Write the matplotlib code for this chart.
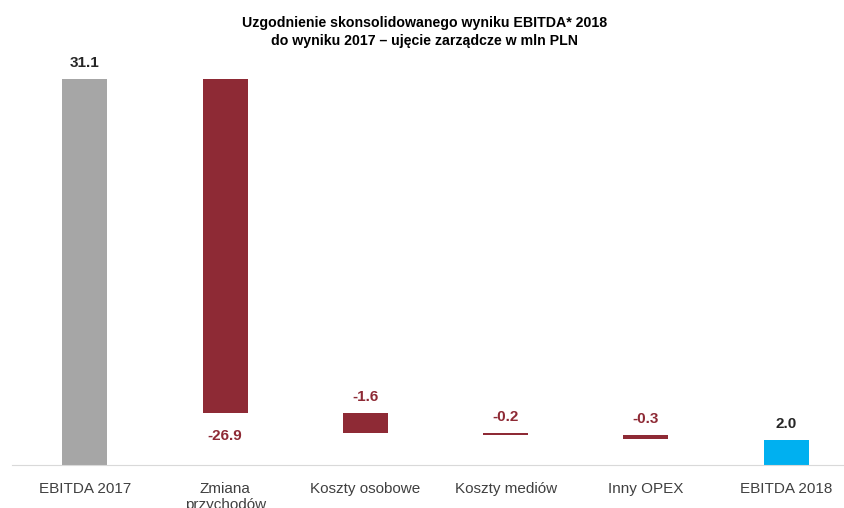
import matplotlib.pyplot as plt
import matplotlib as mpl

# dane z wykresu (mln PLN)
categories = ['EBITDA 2017', 'Zmiana\nprzychodów', 'Koszty osobowe',
              'Koszty mediów', 'Inny OPEX', 'EBITDA 2018']
values = [31.1, -26.9, -1.6, -0.2, -0.3, 2.0]
labels = ['31.1', '-26.9', '-1.6', '-0.2', '-0.3', '2.0']

mpl.rcParams['font.family'] = ['Liberation Sans', 'DejaVu Sans']

gray = '#a6a6a6'
red = '#8e2a35'
blue = '#00b0f0'

dpi = 100
fig = plt.figure(dpi=dpi, figsize=(845 / dpi, 508 / dpi))
ax = fig.add_axes([12 / 845, 1 - 465 / 508, 833 / 845, 410 / 508])

# waterfall - start kazdego slupka
bottoms = []
running = 0.0
for i, v in enumerate(values):
    if i == 0 or i == len(values) - 1:
        bottoms.append(0.0)
        running = v if i == 0 else running
    else:
        bottoms.append(running)
        running += v

colors = [gray] + [red] * (len(values) - 2) + [blue]
xs = range(len(values))
ax.bar(xs, values, bottom=bottoms, width=0.32, color=colors, zorder=2)

for i, v in enumerate(values):
    top = max(bottoms[i], bottoms[i] + v)
    low = min(bottoms[i], bottoms[i] + v)
    c = '#262626' if (i == 0 or i == len(values) - 1) else red
    if i == 1:
        ax.text(i, low - 1.3, labels[i], ha='center', va='top',
                fontsize=11, fontweight='bold', color=c)
    else:
        ax.text(i, top + 0.7, labels[i], ha='center', va='bottom',
                fontsize=11, fontweight='bold', color=c)

ax.set_xlim(-0.52, 5.42)
ax.set_ylim(0, 33.0)
ax.set_xticks(list(xs))
ax.set_xticklabels(categories, fontsize=11, color='#404040')
ax.tick_params(axis='x', length=0, pad=12)
ax.set_yticks([])
for s in ['top', 'right', 'left']:
    ax.spines[s].set_visible(False)
ax.spines['bottom'].set_color('#d9d9d9')

fig.text(0.502, 0.968, 'Uzgodnienie skonsolidowanego wyniku EBITDA* 2018\n'
         'do wyniku 2017 – ujęcie zarządcze w mln PLN',
         ha='center', va='top', fontsize=10.2, fontweight='bold',
         linespacing=1.38)

fig.savefig('out.png', dpi=dpi)
